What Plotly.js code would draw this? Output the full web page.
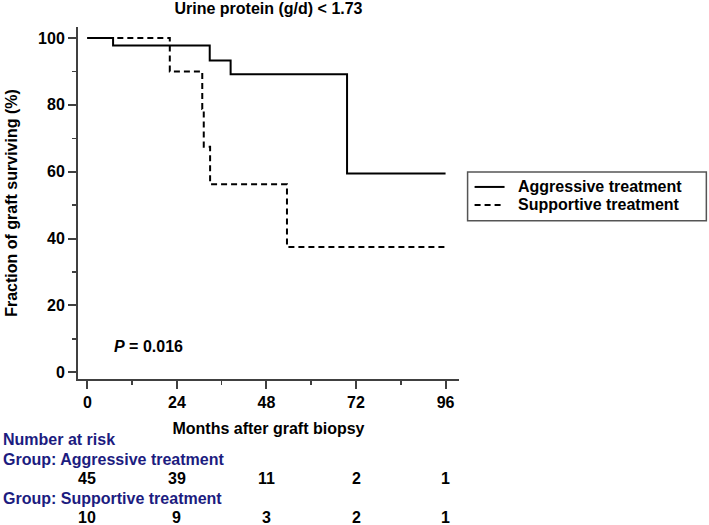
<!DOCTYPE html>
<html>
<head>
<meta charset="utf-8">
<script src="https://cdn.plot.ly/plotly-3.0.1.min.js"></script>
<style>html,body{margin:0;padding:0;background:#fff;}#chart{width:709px;height:525px;}</style>
</head>
<body>
<div id="chart"></div>
<script>
// Kaplan-Meier step data
const aggressiveMonths = [0, 6.9, 32.8, 38.4, 69.6, 96];
const aggressiveSurvival = [100, 97.8, 93.3, 89.2, 59.5, 59.5];
const supportiveMonths = [0, 22.1, 30.8, 31.2, 32.9, 53.5, 96];
const supportiveSurvival = [100, 90, 78.75, 67.5, 56.25, 37.5, 37.5];

// Number at risk table
const riskTimes = [0, 24, 48, 72, 96];
const riskAggressive = [45, 39, 11, 2, 1];
const riskSupportive = [10, 9, 3, 2, 1];

const seriesNames = ['Aggressive treatment', 'Supportive treatment'];

const FONT = "Liberation Sans, Arial, Helvetica, sans-serif";
const NAVY = "#1c1c80";
const AXIS = "#404040";
const DASH = '6px,4px';

// plot area geometry (pixels)
const L = 78, R = 709 - 459.4, T = 26.7, B = 525 - 379.5;
const plotH = 525 - T - B;
const plotW = 709 - L - R;
const py = y => (379.5 - y) / plotH;   // pixel y -> paper y
const px = x => (x - L) / plotW;       // pixel x -> paper x

const traces = [
  {x: aggressiveMonths, y: aggressiveSurvival, type: 'scatter', mode: 'lines',
   line: {shape: 'hv', color: '#000', width: 2}, name: seriesNames[0]},
  {x: supportiveMonths, y: supportiveSurvival, type: 'scatter', mode: 'lines',
   line: {shape: 'hv', color: '#000', width: 2, dash: DASH}, name: seriesNames[1]}
];

const bold = (color) => ({family: FONT, size: 16, color: color || '#000', weight: 'bold'});

const annotations = [];
annotations.push({xref: 'x', yref: 'y', x: 6.6, y: 7.7, xanchor: 'left', yanchor: 'middle',
  text: '<i>P</i> = 0.016', showarrow: false, font: bold()});
annotations.push({xref: 'paper', yref: 'paper', x: px(1), y: py(440), xanchor: 'left', yanchor: 'middle',
  text: 'Number at risk', showarrow: false, font: bold(NAVY)});
annotations.push({xref: 'paper', yref: 'paper', x: px(1), y: py(460), xanchor: 'left', yanchor: 'middle',
  text: 'Group: ' + seriesNames[0], showarrow: false, font: bold(NAVY)});
annotations.push({xref: 'paper', yref: 'paper', x: px(1), y: py(499), xanchor: 'left', yanchor: 'middle',
  text: 'Group: ' + seriesNames[1], showarrow: false, font: bold(NAVY)});
riskTimes.forEach((t, i) => {
  annotations.push({xref: 'x', yref: 'paper', x: t, y: py(479), xanchor: 'center', yanchor: 'middle',
    text: String(riskAggressive[i]), showarrow: false, font: bold()});
  annotations.push({xref: 'x', yref: 'paper', x: t, y: py(518), xanchor: 'center', yanchor: 'middle',
    text: String(riskSupportive[i]), showarrow: false, font: bold()});
});

// custom legend (box, line samples, labels)
const shapes = [
  {type: 'rect', xref: 'paper', yref: 'paper', x0: px(468), x1: px(707), y0: py(221), y1: py(172),
   line: {color: '#555', width: 1.5}, fillcolor: 'rgba(0,0,0,0)', layer: 'above'},
  {type: 'line', xref: 'paper', yref: 'paper', x0: px(475), x1: px(505), y0: py(187), y1: py(187),
   line: {color: '#000', width: 2}},
  {type: 'line', xref: 'paper', yref: 'paper', x0: px(475), x1: px(505), y0: py(205), y1: py(205),
   line: {color: '#000', width: 2, dash: DASH}}
];
annotations.push({xref: 'paper', yref: 'paper', x: px(516), y: py(187), xanchor: 'left', yanchor: 'middle',
  text: seriesNames[0], showarrow: false, font: bold()});
annotations.push({xref: 'paper', yref: 'paper', x: px(516), y: py(205), xanchor: 'left', yanchor: 'middle',
  text: seriesNames[1], showarrow: false, font: bold()});

const layout = {
  width: 709, height: 525,
  margin: {l: L, r: R, t: T, b: B, pad: 0},
  paper_bgcolor: '#fff', plot_bgcolor: '#fff',
  font: {family: FONT, size: 16, color: '#000'},
  title: {text: 'Urine protein (g/d) < 1.73', xref: 'paper', x: 0.5, xanchor: 'center',
          yref: 'container', y: 1 - 8 / 525, yanchor: 'middle', font: bold()},
  xaxis: {range: [-2.5, 99.6], tickmode: 'array', tickvals: riskTimes, ticktext: riskTimes.map(String),
          showgrid: false, zeroline: false, showline: true, linecolor: AXIS, linewidth: 2,
          ticks: 'outside', ticklen: 8, tickwidth: 2, tickcolor: AXIS,
          minor: {tickvals: [12, 36, 60, 84], ticks: 'outside', ticklen: 4, tickwidth: 1.5, tickcolor: AXIS},
          tickfont: bold(),
          title: {text: 'Months after graft biopsy', standoff: 13, font: bold()},
          automargin: false, fixedrange: true},
  yaxis: {range: [-2, 103.3], tickmode: 'array', tickvals: [0, 20, 40, 60, 80, 100],
          showgrid: false, zeroline: false, showline: true, linecolor: AXIS, linewidth: 2,
          ticks: 'outside', ticklen: 8, tickwidth: 2, tickcolor: AXIS,
          minor: {tickvals: [10, 30, 50, 70, 90], ticks: 'outside', ticklen: 4, tickwidth: 1.5, tickcolor: AXIS},
          tickfont: bold(),
          title: {text: 'Fraction of graft surviving (%)', standoff: 16, font: bold()},
          automargin: false, fixedrange: true},
  showlegend: false,
  shapes: shapes,
  annotations: annotations
};

Plotly.newPlot('chart', traces, layout, {displayModeBar: false, staticPlot: true});
</script>
</body>
</html>
